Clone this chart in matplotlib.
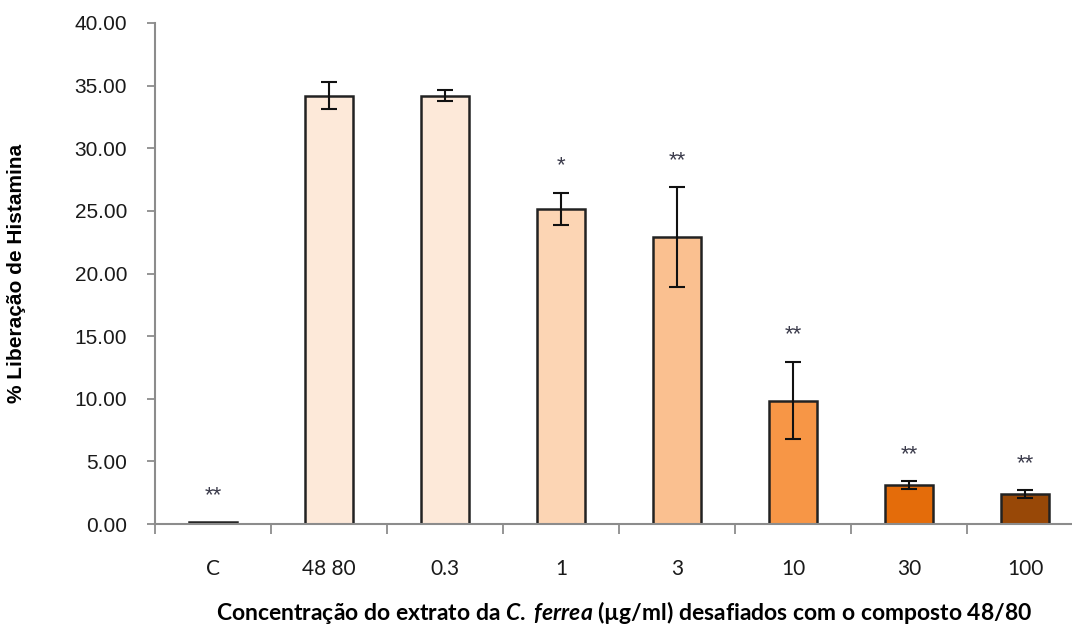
import matplotlib.pyplot as plt
import numpy as np

# Histamine release per extract concentration
categories = ["C", "48 80", "0.3", "1", "3", "10", "30", "100"]
release = [0.15, 34.2, 34.2, 25.15, 22.9, 9.85, 3.1, 2.4]
release_err = [0.0, 1.05, 0.45, 1.3, 4.0, 3.1, 0.3, 0.3]
significance = ["**", "", "", "*", "**", "**", "**", "**"]
bar_colors = ["#3a3a3a", "#FDE9D9", "#FDE9D9", "#FCD5B4", "#FAC090",
              "#F79646", "#E46C0A", "#984807"]

plt.rcParams['font.family'] = ['Liberation Sans', 'DejaVu Sans']
plt.rcParams['mathtext.fontset'] = 'custom'
plt.rcParams['mathtext.rm'] = 'Lato:bold'
plt.rcParams['mathtext.it'] = 'Lato:italic:bold'

fig = plt.figure(figsize=(10.72, 6.28), dpi=100)
ax = fig.add_axes([155 / 1072, 1 - 524 / 628, 1 - 155 / 1072, (524 - 23) / 628])

x = np.arange(len(categories))
ax.bar(x, release, width=0.42, color=bar_colors, edgecolor="#222222", linewidth=1.8, zorder=2)
ax.errorbar(x[1:], release[1:], yerr=release_err[1:], fmt="none", ecolor="#111111",
            elinewidth=1.5, capsize=5.5, capthick=1.5, zorder=3)

# significance marks above each error bar
for xi, v, e, s in zip(x, release, release_err, significance):
    if s:
        ax.text(xi, v + e + 1.3, s, ha="center", va="bottom", fontsize=16, color="#3b3b4b")

ax.set_xlim(-0.5, 7.405)
ax.set_ylim(0, 40)
ax.set_yticks(np.arange(0, 40.1, 5))
ax.set_yticklabels([f"{t:.2f}" for t in np.arange(0, 40.1, 5)])
ax.set_xticks(x)
ax.set_xticklabels(categories, family=["Lato", "DejaVu Sans"])
ax.set_xticks(np.arange(-0.5, 7.4, 1), minor=True)

for side in ("top", "right"):
    ax.spines[side].set_visible(False)
for side in ("left", "bottom"):
    ax.spines[side].set_color("#8c8c8c")
    ax.spines[side].set_linewidth(1.5)

ax.tick_params(axis="y", direction="out", length=6, width=1.3, color="#8c8c8c",
               labelsize=15, pad=14, labelcolor="#1a1a1a")
ax.tick_params(axis="x", which="major", length=0, labelsize=15, pad=25, labelcolor="#1a1a1a")
ax.tick_params(axis="x", which="minor", direction="out", length=7, width=1.3, color="#8c8c8c")

ax.set_ylabel("% Liberação de Histamina", fontsize=15, fontweight="bold")
ax.yaxis.set_label_coords(-(155 - 26) / (1072 - 155), 0.5)

fig.text(624 / 1072, 1 - 612 / 628,
         r"Concentração do extrato da $\it{C.}$ $\it{ferrea}$ (µg/ml) desafiados com o composto 48/80",
         ha="center", va="center", fontsize=16.5, fontweight="bold", family=["Lato", "DejaVu Sans"])

fig.savefig("out.png", dpi=100)
